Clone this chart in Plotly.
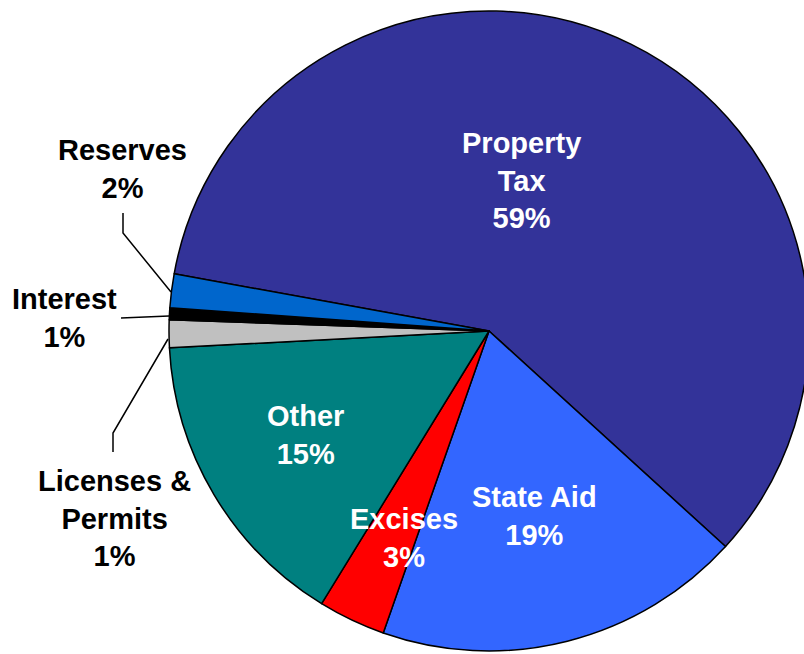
import plotly.graph_objects as go

# revenue sources, clockwise from the top-left
labels = ["Property Tax", "State Aid", "Excises", "Other",
          "Licenses & Permits", "Interest", "Reserves"]
values = [58.9, 18.6, 3.4, 15.4, 1.4, 0.6, 1.7]
colors = ["#333399", "#3366FF", "#FF0000", "#008080",
          "#C0C0C0", "#000000", "#0066CC"]

# how each label breaks over lines
wrapped = {"Property Tax": "Property<br>Tax",
           "Licenses & Permits": "Licenses &<br>Permits"}

# the figure is a little wider than the window so the pie runs off the right edge
W, H = 812, 654


def px(x):
    return x / W


def py(y):
    return 1 - y / H


# pie centre about (489, 331) with radius 320, in window pixels
fig = go.Figure(go.Pie(
    labels=labels,
    values=values,
    sort=False,
    direction="clockwise",
    rotation=-79.7,
    marker=dict(colors=colors, line=dict(color="black", width=1.5)),
    textinfo="none",
    hoverinfo="label+percent",
    showlegend=False,
    domain=dict(x=[px(169), px(809)], y=[py(651), py(11)]),
))

# label anchor points (pixels) and colour: inside labels white, outside black
label_pos = {
    "Property Tax": (521, 180, "white"),
    "State Aid": (534, 516, "white"),
    "Excises": (404, 538, "white"),
    "Other": (305, 435, "white"),
    "Licenses & Permits": (114, 518, "black"),
    "Interest": (64, 318, "black"),
    "Reserves": (122, 169, "black"),
}

annotations = []
for lab, val in zip(labels, values):
    x, y, c = label_pos[lab]
    annotations.append(dict(
        x=px(x), y=py(y), xref="paper", yref="paper",
        text=f"{wrapped.get(lab, lab)}<br>{round(val)}%",
        showarrow=False, xanchor="center", yanchor="middle",
        font=dict(family="Arial, Liberation Sans, sans-serif", size=29,
                  color=c, weight="bold"),
    ))

# leader lines for the thin slices
leaders = [
    [(123, 213), (123, 233), (171, 292)],
    [(121, 318), (169, 316)],
    [(113, 452), (113, 433), (168, 339)],
]
shapes = []
for pts in leaders:
    path = "M " + " L ".join(f"{px(x)},{py(y)}" for x, y in pts)
    shapes.append(dict(type="path", path=path, xref="paper", yref="paper",
                       line=dict(color="black", width=1.5)))

fig.update_layout(
    width=W, height=H,
    margin=dict(l=0, r=0, t=0, b=0),
    paper_bgcolor="white",
    plot_bgcolor="white",
    annotations=annotations,
    shapes=shapes,
)

# drop the page margin and any scrollbars
fig.write_html(
    "out.html",
    config={"displayModeBar": False},
    post_script="document.body.style.margin='0';"
                "document.body.style.overflow='hidden';",
)
